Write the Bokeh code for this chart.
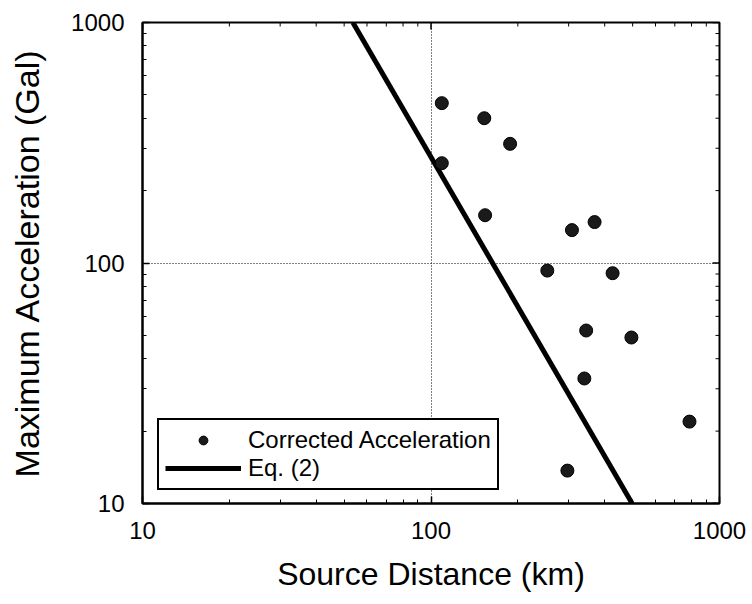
import math
from bokeh.plotting import figure
from bokeh.models import FixedTicker, BasicTickFormatter, Legend, LegendItem
from bokeh.embed import file_html
from bokeh.resources import INLINE

# Observed corrected accelerations
distance_km = [109, 153, 188, 109, 154, 308, 369, 253, 426, 345, 495, 340, 787, 297]
accel_gal = [462, 400, 313, 260, 158, 137, 148, 93, 90.7, 52.4, 49, 33.1, 21.9, 13.7]

# Eq. (2) line end points
eq_x = [53.6, 498]
eq_y = [1000, 10]

# Axis ticks (log scale, both axes 10..1000)
major_ticks = [10, 100, 1000]
minor_ticks = [20, 30, 40, 50, 60, 70, 80, 90, 200, 300, 400, 500, 600, 700, 800, 900]

FONT = "Liberation Sans"

p = figure(width=752, height=604, x_axis_type="log", y_axis_type="log",
           x_range=(10, 1000), y_range=(10, 1000),
           output_backend="svg", toolbar_location=None,
           min_border_left=142, min_border_right=33,
           min_border_top=22, min_border_bottom=101)
p.background_fill_color = "white"
p.border_fill_color = "white"
p.outline_line_color = "black"
p.outline_line_width = 2

for ax in (p.xaxis[0], p.yaxis[0]):
    ax.ticker = FixedTicker(ticks=major_ticks, minor_ticks=minor_ticks)
    ax.formatter = BasicTickFormatter()
    ax.axis_line_color = "black"
    ax.axis_line_width = 2
    ax.major_tick_in = 7
    ax.major_tick_out = 0
    ax.minor_tick_in = 4
    ax.minor_tick_out = 0
    ax.major_tick_line_width = 1.5
    ax.major_label_text_font = FONT
    ax.major_label_text_font_size = "24px"
    ax.major_label_text_color = "black"
    ax.major_label_standoff = 18
    ax.axis_label_text_font = FONT
    ax.axis_label_text_font_style = "normal"
    ax.axis_label_text_color = "black"

p.xaxis[0].axis_label = "Source Distance (km)"
p.xaxis[0].axis_label_text_font_size = "32px"
p.xaxis[0].axis_label_standoff = 14
p.yaxis[0].axis_label = "Maximum Acceleration (Gal)"
p.yaxis[0].axis_label_text_font_size = "34px"
p.yaxis[0].axis_label_standoff = 22

p.grid.grid_line_color = "black"
p.grid.grid_line_dash = "1 2"
p.grid.grid_line_width = 1

# Mirrored tick marks on the top and right frame edges
p.scatter(major_ticks, [1000] * len(major_ticks), marker="dash", angle=math.pi / 2,
          size=14, line_color="black", line_width=1.5)
p.scatter(minor_ticks, [1000] * len(minor_ticks), marker="dash", angle=math.pi / 2,
          size=8, line_color="black", line_width=1)
p.scatter([1000] * len(major_ticks), major_ticks, marker="dash",
          size=14, line_color="black", line_width=1.5)
p.scatter([1000] * len(minor_ticks), minor_ticks, marker="dash",
          size=8, line_color="black", line_width=1)

line_r = p.line(eq_x, eq_y, line_color="black", line_width=5)
pts_r = p.scatter(distance_km, accel_gal, size=13, marker="circle",
                  fill_color="#1a1a1a", line_color="black", line_width=1)

legend = Legend(items=[LegendItem(label="Corrected Acceleration", renderers=[pts_r]),
                       LegendItem(label="Eq. (2)", renderers=[line_r])],
                location=(15, 13))
legend.label_text_font = FONT
legend.label_text_font_size = "24px"
legend.label_text_color = "black"
legend.glyph_width = 76
legend.glyph_height = 22
legend.label_standoff = 7
legend.label_height = 22
legend.padding = 6
legend.spacing = 0
legend.margin = 0
legend.border_line_color = "black"
legend.border_line_alpha = 1
legend.border_line_width = 2
legend.background_fill_color = "white"
legend.background_fill_alpha = 1
p.add_layout(legend, "center")

open("out.html", "w").write(file_html(p, INLINE))
